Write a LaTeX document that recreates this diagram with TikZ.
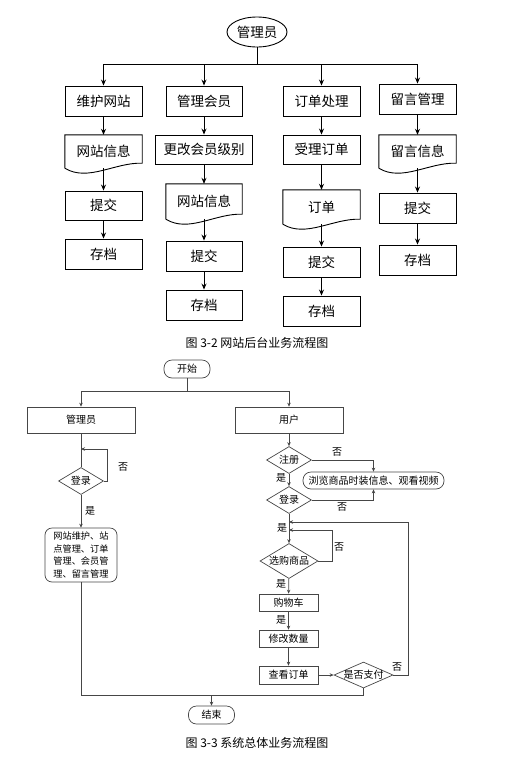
\documentclass[tikz,border=0pt]{standalone}
\usepackage{fontspec}
\setmainfont{Noto Sans CJK SC}
\usetikzlibrary{shapes.geometric,arrows.meta,calc}

\definecolor{linec}{RGB}{70,70,70}

% outline of a document node, wavy bottom
\newcommand{\docline}[1]{%
\draw[line width=0.9pt] (#1.south west) -- (#1.north west) -- (#1.north east) -- ($(#1.south east)+(0,-5)$)
  .. controls ($(#1.south east)+(-27,-6)$) and ($(#1.south west)+(23,14)$) .. (#1.south west);}
% text of a diamond, takes no width
\newcommand{\dtext}[1]{\makebox[0pt]{#1}}

\begin{document}
\begin{tikzpicture}[x=1pt,y=-1pt,
  big/.style={draw,line width=0.9pt,rectangle,inner sep=0pt,minimum width=77,minimum height=30,font=\fontsize{13.5}{15}\selectfont},
  bigdoc/.style={rectangle,inner sep=0pt,minimum width=77,font=\fontsize{13.5}{15}\selectfont},
  barr/.style={line width=0.9pt,-{Stealth[length=6pt,width=5pt]}},
  small/.style={draw=linec,line width=0.7pt,rectangle,inner sep=0pt,font=\fontsize{10}{12}\selectfont},
  sdia/.style={draw=linec,line width=0.7pt,diamond,inner sep=0pt,font=\fontsize{10}{12}\selectfont},
  term/.style={draw=linec,line width=0.7pt,rectangle,rounded corners=8pt,inner sep=0pt,minimum width=46,minimum height=18,font=\fontsize{10}{12}\selectfont},
  sarr/.style={draw=linec,line width=0.7pt,-{Stealth[length=4pt,width=3.5pt]}},
  sline/.style={draw=linec,line width=0.7pt},
  lab/.style={inner sep=0pt,font=\fontsize{10}{12}\selectfont}]
\useasboundingbox (0,0) rectangle (517,772);

% ---- figure 3-2
\node[draw,line width=0.9pt,ellipse,inner sep=0pt,minimum width=60,minimum height=30,font=\fontsize{13.5}{15}\selectfont] (admin) at (257,32) {管理员};
\coordinate (bar) at (257,64);
\coordinate (b1) at (103.5,64);
\coordinate (b2) at (204,64);
\coordinate (b3) at (321.5,64);
\coordinate (b4) at (417.5,64);

\node[big] (whwz) at (103.5,101) {维护网站};
\node[big,minimum width=76] (glhy) at (204,101) {管理会员};
\node[big] (ddcl) at (321.5,101) {订单处理};
\node[big] (lygl) at (417.5,99) {留言管理};

\node[bigdoc,minimum height=33] (wzxx1) at (103.5,151.5) {网站信息};
\node[big,minimum width=97,minimum height=29] (ggjb) at (204,149.5) {更改会员级别};
\node[big,minimum height=29] (sldd) at (321.5,149.5) {受理订单};
\node[bigdoc,minimum height=33] (lyxx) at (417.5,151.5) {留言信息};

\node[big,minimum height=29] (tj1) at (103.5,205.5) {提交};
\node[big] (cd1) at (103.5,254) {存档};

\node[bigdoc,minimum width=76,minimum height=35] (wzxx2) at (204,201.5) {网站信息};
\node[big,minimum width=76] (tj2) at (204,256) {提交};
\node[big,minimum width=76] (cd2) at (204,305) {存档};

\node[bigdoc,minimum height=34] (dd) at (321.5,207) {订单};
\node[big] (tj3) at (321.5,262) {提交};
\node[big] (cd3) at (321.5,311) {存档};

\node[big] (tj4) at (417.5,208) {提交};
\node[big] (cd4) at (417.5,260) {存档};

\docline{wzxx1}
\docline{wzxx2}
\docline{dd}
\docline{lyxx}

\draw[line width=0.9pt] (admin) -- (bar);
\draw[line width=0.9pt] (b1) -- (b4);
\draw[barr] (b1) -- (whwz);
\draw[barr] (b2) -- (glhy);
\draw[barr] (b3) -- (ddcl);
\draw[barr] (b4) -- (lygl);

\draw[barr] (whwz) -- (wzxx1);
\draw[barr] (wzxx1.south) -- (tj1);
\draw[barr] (tj1) -- (cd1);

\draw[barr] (glhy) -- (ggjb);
\draw[barr] (ggjb) -- (wzxx2.north);
\draw[barr] (wzxx2.south) -- (tj2);
\draw[barr] (tj2) -- (cd2);

\draw[barr] (ddcl) -- (sldd);
\draw[barr] (sldd) -- (dd.north);
\draw[barr] (dd.south) -- (tj3);
\draw[barr] (tj3) -- (cd3);

\draw[barr] (lygl) -- (lyxx.north);
\draw[barr] (lyxx.south) -- (tj4);
\draw[barr] (tj4) -- (cd4);

\node[font=\fontsize{12}{14}\selectfont] (cap1) at (257,343) {图 3-2 网站后台业务流程图};

% ---- figure 3-3
\node[term] (start) at (187,369) {开始};
\coordinate (sj) at (187,391);
\coordinate (sa) at (81,391);
\coordinate (su) at (289,391);
\node[small,minimum width=108,minimum height=26] (gly) at (81,420) {管理员};
\node[small,minimum width=108,minimum height=26] (yh) at (289,420) {用户};

\draw[sline] (start) -- (sj);
\draw[sline] (sa) -- (su);
\draw[sarr] (sa) -- (gly);
\draw[sarr] (su) -- (yh);

% admin branch
\node[sdia,minimum width=45,minimum height=27] (dl1) at (81,481) {\dtext{登录}};
\coordinate (lp1) at (107,449);
\coordinate (lp1e) at (81,449);
\draw[sline] (gly) -- (dl1);
\draw[sarr] (dl1.east) -| (lp1) -- (lp1e);
\node[lab] (no1) at (123,467) {否};
\node[lab] (yes1) at (90,511) {是};
\node[draw=linec,line width=0.7pt,rectangle,rounded corners=7pt,inner sep=0pt,minimum width=72,minimum height=54,align=left,font=\fontsize{9.2}{12.5}\selectfont] (glbox) at (81,555) {网站维护、站\\点管理、订单\\管理、会员管\\理、留言管理};
\draw[sarr] (dl1) -- (glbox);

% user branch
\node[sdia,minimum width=45,minimum height=27] (zc) at (289,460) {\dtext{注册}};
\node[draw=linec,line width=0.7pt,rectangle,rounded corners=8pt,inner sep=0pt,minimum width=141,minimum height=17,font=\fontsize{10}{12}\selectfont] (llsp) at (373.5,480.5) {浏览商品时装信息、观看视频};
\node[sdia,minimum width=45,minimum height=27] (dl2) at (289,500) {\dtext{登录}};
\node[sdia,minimum width=58,minimum height=35] (xgsp) at (289,561) {\dtext{选购商品}};
\node[small,minimum width=59,minimum height=17] (gwc) at (288.5,602.5) {购物车};
\node[small,minimum width=59,minimum height=17] (xgsl) at (288.5,638.5) {修改数量};
\node[small,minimum width=59,minimum height=18] (ckdd) at (288.5,675) {查看订单};
\node[sdia,minimum width=59,minimum height=26] (sfzf) at (363.5,675) {\dtext{是否支付}};

\draw[sarr] (yh) -- (zc);
\draw[sarr] (zc.east) -| (llsp.north);
\node[lab] (no2) at (337,452) {否};
\node[lab] (yes2) at (281,478) {是};
\draw[sarr] (zc) -- (dl2);
\draw[sarr] (dl2.east) -| (llsp.south);
\node[lab] (no3) at (342,507) {否};
\node[lab] (yes3) at (282,528) {是};
\draw[sarr] (dl2) -- (xgsp);

\coordinate (lp2) at (332,530);
\coordinate (lp2e) at (289,530);
\draw[sarr] (xgsp.east) -| (lp2) -- (lp2e);
\node[lab] (no4) at (339,547) {否};

\node[lab] (yes4) at (281,584) {是};
\draw[sarr] (xgsp) -- (gwc);
\node[lab] (yes5) at (281,620) {是};
\draw[sarr] (gwc) -- (xgsl);
\draw[sarr] (xgsl) -- (ckdd);
\draw[sarr] (ckdd) -- (sfzf);

\coordinate (lp3) at (408,522);
\coordinate (lp3e) at (289,522);
\draw[sarr] (sfzf.east) -| (lp3) -- (lp3e);
\node[lab] (no5) at (397,667) {否};

% end
\coordinate (e1) at (81,695);
\coordinate (e2) at (363.5,695);
\coordinate (ej) at (211.5,695);
\node[term] (end) at (211.5,715) {结束};
\draw[sline] (glbox) -- (e1) -- (e2) -- (sfzf);
\draw[sarr] (ej) -- (end);

\node[font=\fontsize{12}{14}\selectfont] (cap2) at (257,743) {图 3-3 系统总体业务流程图};
\end{tikzpicture}
\end{document}
